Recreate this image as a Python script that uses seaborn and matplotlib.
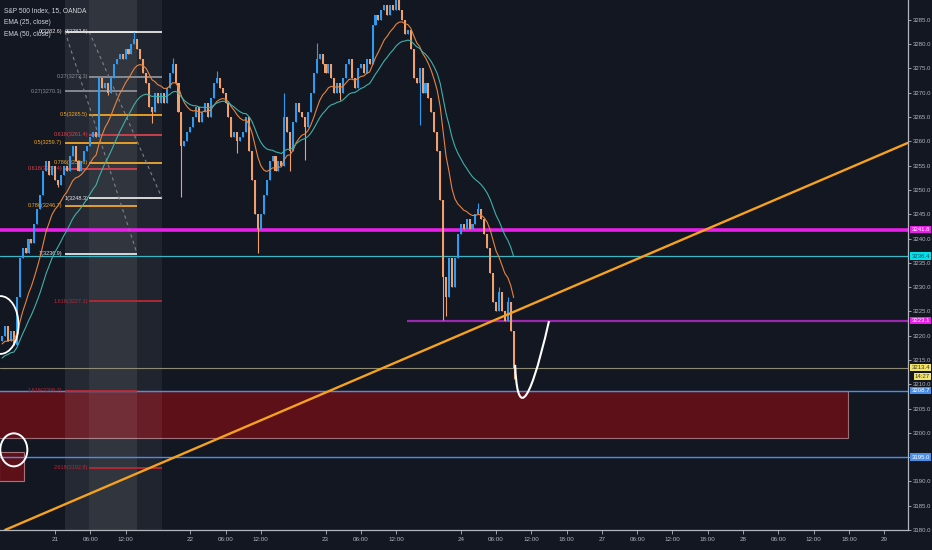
import matplotlib
matplotlib.use("Agg")
import matplotlib.pyplot as plt
import seaborn as sns
from matplotlib.patches import Rectangle, Ellipse, PathPatch
from matplotlib.path import Path

sns.set_theme(style="dark")
plt.rcParams['font.family'] = ['Liberation Sans Narrow', 'Liberation Sans', 'DejaVu Sans']

BG = '#131722'
AXC = '#b2b5be'

# 30 minute bars, bar 0 = 21 Jan 00:00 (session gaps removed like the chart)
first_bar = -18
first_open = 3219
closes = [3220, 3222, 3219, 3221, 3218, 3228, 3236, 3238, 3237, 3240, 3239, 3243, 3246, 3249, 3254, 3256, 3253, 3255,
          3252, 3251, 3253, 3255, 3254, 3257, 3259, 3256, 3254, 3256,
          3258, 3259, 3261, 3262, 3261, 3273, 3271, 3272, 3270, 3273,
          3276, 3277, 3278, 3277, 3279, 3278, 3280, 3281, 3279, 3277,
          3274, 3272, 3267, 3266, 3270, 3268, 3270, 3268, 3271, 3274,
          3276, 3272, 3266, 3259, 3260, 3262, 3263, 3265, 3267, 3264,
          3266, 3268, 3265, 3269, 3272, 3273, 3271, 3270, 3268, 3265,
          3261, 3262, 3260, 3261, 3262, 3265, 3258, 3252, 3245, 3242,
          3245, 3249, 3252, 3256, 3257, 3254, 3256, 3255, 3265, 3262,
          3258, 3264, 3268, 3266, 3265, 3263, 3266, 3270, 3274, 3277,
          3278, 3276, 3274, 3276, 3273, 3270, 3272, 3270, 3273, 3276,
          3277, 3273, 3271, 3275, 3276, 3274, 3277, 3276, 3284, 3286,
          3285, 3287, 3288, 3286, 3288, 3287, 3289, 3287, 3285, 3282,
          3283, 3279, 3273, 3272, 3275, 3270, 3272, 3269, 3266, 3262,
          3258, 3248, 3232, 3228, 3236, 3230, 3236, 3241, 3243, 3242,
          3244, 3242, 3243, 3245, 3246, 3244, 3241, 3238, 3233, 3227,
          3225, 3229, 3225, 3223, 3227, 3221, 3213.4]
# notable wicks (bar: price)
wick_hi = {27: 3282.6, 40: 3277.2, 55: 3274.5, 78: 3270.0, 89: 3280.3, 116: 3290.0,
           144: 3247.3, 151: 3230.0, 154: 3228.0}
wick_lo = {1: 3250.6, 18: 3269.5, 33: 3263.7, 43: 3248.6, 62: 3257.6, 69: 3237.0, 80: 3254.0,
           85: 3256.2, 97: 3268.5, 124: 3263.4, 132: 3223.2, 133: 3224.0, 156: 3211.0}

ema25_seed = 3218
ema50_seed = 3215

tick_bars = [0, 12, 24, 46, 58, 70, 92, 104, 116, 138, 150, 162, 174, 186, 198, 210, 222, 234, 246, 258, 270, 282]
tick_labels = ['21', '06:00', '12:00', '22', '06:00', '12:00', '23', '06:00', '12:00', '24', '06:00', '12:00',
               '18:00', '27', '06:00', '12:00', '18:00', '28', '06:00', '12:00', '18:00', '29']

# fib retracements
fib_ratios = ['0', '0.27', '0.5', '0.618', '0.786', '1', '1.618', '2.618']
fib_colors = ['#e6e6e6', '#8d9099', '#f5a623', '#d8414c', '#f0a830', '#e6e6e6', '#b82834', '#b82834']
fib_a_levels = [3282.6, 3273.3, 3265.5, 3261.4, 3255.6, 3248.3, 3227.1, 3192.8]
fib_a_span = (11.6, 36.4)
fib_b_levels = [3282.6, 3270.3, 3259.7, 3254.4, 3246.7, 3236.9, 3208.7]
fib_b_span = (3.4, 27.9)

# horizontal levels
magenta_level = 3241.8
cyan_level = 3236.4
purple_level = 3223.1
purple_start = 119.7
last_price = 3213.4
blue_levels = [3208.7, 3195.0]
zone_top, zone_bottom, zone_end = 3208.7, 3198.9, 269.7
small_box = (-19, 3190.1, -10.5, 3196.1)

trend_p1 = (-17, 3180.0)
trend_p2 = (290.1, 3259.7)

xlim = (-18.7, 290.1)
ylim = (3180.0, 3289.1)


def ema(values, seed, span):
    a = 2 / (span + 1)
    out, e = [], seed
    for v in values:
        e = a * v + (1 - a) * e
        out.append(e)
    return out


bars = list(range(first_bar, first_bar + len(closes)))
opens = [first_open] + closes[:-1]

fig = plt.figure(figsize=(9.32, 5.5), dpi=100, facecolor=BG)
ax = fig.add_axes([0, 20 / 550, 908 / 932, 530 / 550])
ax.set_facecolor(BG)
ax.grid(False)

# red demand zone and small box
ax.add_patch(Rectangle((xlim[0] - 1, zone_bottom), zone_end - xlim[0] + 1, zone_top - zone_bottom,
                       facecolor='#5e1019', edgecolor='#9c7078', lw=0.8, zorder=1))
ax.add_patch(Rectangle((small_box[0], small_box[1]), small_box[2] - small_box[0], small_box[3] - small_box[1],
                       facecolor='#5e1019', edgecolor='#a8747c', lw=0.8, zorder=1))

# fib backgrounds
ax.axvspan(*fib_b_span, color='white', alpha=0.08, lw=0, zorder=1.5)
ax.axvspan(*fib_a_span, color='white', alpha=0.06, lw=0, zorder=1.5)

# horizontal levels
ax.axhline(magenta_level, color='#e91ee8', lw=2.6, zorder=2)
ax.axhline(cyan_level, color='#3bb6c4', lw=0.9, zorder=2)
ax.hlines(purple_level, purple_start, xlim[1], color='#9c27b0', lw=1.6, zorder=2)
ax.axhline(last_price, color='#8e8b74', lw=0.8, zorder=2)
for lv in blue_levels:
    ax.axhline(lv, color='#4a8fe7', lw=1.0, zorder=2)

# fib lines, labels and dashed trend lines
for levels, span, gap in [(fib_a_levels, fib_a_span, 0.3), (fib_b_levels, fib_b_span, 1.0)]:
    for r, lv, c in zip(fib_ratios, levels, fib_colors):
        ax.hlines(lv, span[0], span[1], color=c, lw=1.3, zorder=3)
        ax.text(span[0] - gap, lv, f'{r}({lv:.1f})', color=c, fontsize=4.0, ha='right', va='center', zorder=3)
    ax.plot([span[0], span[1]], [levels[0], levels[5]], color='#7d808a', lw=0.8, ls=(0, (3, 3)), zorder=3)

# candles
up_c, dn_c = '#2f9bf0', '#f2a06b'
for b, o, c in zip(bars, opens, closes):
    col = up_c if c >= o else dn_c
    hi = max(o, c, wick_hi.get(b, c))
    lo = min(o, c, wick_lo.get(b, c))
    ax.vlines(b, lo, hi, color=col, lw=0.8, zorder=4)
    ax.bar(b, max(abs(c - o), 0.3), bottom=min(o, c), width=0.7, color=col, lw=0, zorder=4)

# EMAs (25 and 50 on 15 min = 12.5 and 25 on 30 min bars)
sns.lineplot(x=bars, y=ema(closes, ema25_seed, 12.5), color='#e7843c', lw=0.8, ax=ax, zorder=5)
sns.lineplot(x=bars, y=ema(closes, ema50_seed, 25), color='#3fb0a8', lw=0.8, ax=ax, zorder=5)

# drawings
ax.axline(trend_p1, trend_p2, color='#f7a21b', lw=1.7, zorder=6)
ax.add_patch(Ellipse((-14, 3196.5), 9.2, 6.8, fill=False, edgecolor='white', lw=1.4, zorder=6))
ax.add_patch(Ellipse((-18.5, 3222.2), 12.2, 11.9, fill=False, edgecolor='white', lw=1.3, zorder=6))
u_pts = [(156.5, 3214.0), (157.1, 3204.3), (160.5, 3203.1), (168.0, 3223.0)]
ax.add_patch(PathPatch(Path(u_pts, [Path.MOVETO, Path.CURVE4, Path.CURVE4, Path.CURVE4]),
                       fill=False, edgecolor='white', lw=1.5, zorder=6))

ax.set_xlim(*xlim)
ax.set_ylim(*ylim)

# axes styling
for s in ['top', 'left']:
    ax.spines[s].set_visible(False)
for s in ['right', 'bottom']:
    ax.spines[s].set_visible(True)
    ax.spines[s].set_color(AXC)
    ax.spines[s].set_linewidth(0.9)
ax.yaxis.tick_right()
yt = list(range(3180, 3290, 5))
ax.set_yticks(yt)
ax.set_yticklabels([f'{v:.1f}' for v in yt])
ax.set_xticks(tick_bars)
ax.set_xticklabels(tick_labels)
ax.tick_params(axis='y', which='both', right=True, left=False, direction='out', length=2.5, width=0.6,
               colors=AXC, labelsize=4.3, pad=0.8)
ax.tick_params(axis='x', which='both', bottom=True, direction='out', length=3, width=0.6,
               colors=AXC, labelsize=4.5, pad=2)
ax.set_xlabel('')
ax.set_ylabel('')


def price_tag(price, text, bg, fg='white', dx=2.6, dy=0):
    ax.annotate(text, xy=(1, price), xycoords=ax.get_yaxis_transform(), xytext=(dx, dy),
                textcoords='offset points', ha='left', va='center', fontsize=4.3, color=fg,
                bbox=dict(boxstyle='square,pad=0.2', fc=bg, ec='none'), annotation_clip=False, zorder=10)


price_tag(magenta_level, f'{magenta_level:.1f}', '#e91ee8')
price_tag(cyan_level, f'{cyan_level:.1f}', '#00e1f0', fg='#134a50')
price_tag(purple_level, f'{purple_level:.1f}', '#e91ee8')
price_tag(last_price, f'{last_price:.1f}', '#f2e36c', fg='#3a3a20')
price_tag(last_price, '14:27', '#f2e36c', fg='#3a3a20', dx=5, dy=-6.5)
for lv in blue_levels:
    price_tag(lv, f'{lv:.1f}', '#4a8fe7')

# legend text
for i, t in enumerate(['S&P 500 Index, 15, OANDA', 'EMA (25, close)', 'EMA (50, close)']):
    ax.text(4 / 908, 1 - (11 + 11.5 * i) / 530, t, transform=ax.transAxes, fontsize=4.8,
            color='#d1d4dc', ha='left', va='center', zorder=10)

fig.savefig('out.png', dpi=100, facecolor=BG)
